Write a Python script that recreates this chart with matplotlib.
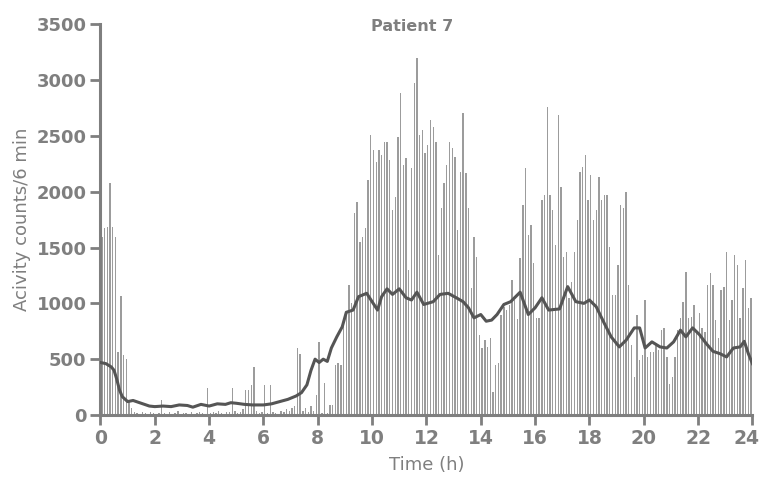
import matplotlib
matplotlib.use("Agg")
import matplotlib.pyplot as plt
from matplotlib.transforms import ScaledTranslation

# Activity counts per 6-min epoch (240 epochs over 24 h)
counts_00_01 = [1597, 1673, 1688, 2076, 1688, 1597, 560, 1070, 540, 500]
counts_01_08 = [120, 60, 30, 20, 10, 25, 15, 0, 30, 20,
                10, 15, 130, 20, 10, 30, 0, 20, 35, 10,
                20, 15, 0, 25, 10, 20, 30, 15, 10, 240,
                20, 30, 15, 40, 20, 10, 30, 25, 240, 40,
                20, 30, 50, 220, 220, 270, 430, 40, 20, 30,
                270, 20, 270, 30, 20, 10, 40, 30, 50, 40,
                60, 80, 600, 550, 40, 60, 30, 80, 40,
                180, 650, 20, 290, 20, 90]
counts_08_15 = [85, 448, 463, 448, 851, 900, 1165, 1000, 1807, 1911,
                1553, 1597, 1672, 2106, 2509, 2374, 2270, 2374, 2330, 2450,
                2450, 2285, 1837, 1955, 2494, 2882, 2240, 2300, 1300, 2210,
                2972, 3196, 2509, 2550, 2345, 2420, 2643, 2583, 2450, 1433,
                1852, 2076, 2240, 2450, 2390, 2315, 1657, 2180, 2702, 2165,
                1852, 1135, 1597, 1418, 717, 603, 672, 612, 687, 209,
                448, 463]
counts_15_24 = [896, 970, 941, 985, 1210, 1030, 856, 1403, 1882, 2210,
                1612, 1702, 1359, 866, 866, 1926, 1970, 2762, 1970, 1837,
                1523, 2688, 2046, 1418, 1463, 1045, 1195, 1463, 1747, 2180,
                2225, 2330, 1926, 2150, 1747, 1837, 2136, 1926, 1970, 1970,
                1508, 1075, 1075, 1344, 1882, 1852, 2000, 1165, 627, 343,
                896, 493, 537, 1030, 523, 567, 567, 627, 582, 762,
                777, 523, 275, 343, 523, 762, 866, 1015, 1284, 866,
                881, 985, 747, 911, 777, 747, 1165, 1269, 1165, 851,
                687, 1120, 1150, 1463, 851, 1030, 1433, 1344, 866, 1135,
                1389, 956, 1045]
counts = counts_00_01 + counts_01_08 + counts_08_15 + counts_15_24
epoch_hours = [0.05 + 0.1 * i for i in range(len(counts))]

# Smoothed (running mean) curve
line_hours = [0.0, 0.2, 0.4, 0.5, 0.6, 0.7, 0.8, 1.0, 1.2, 1.5, 1.8, 2.0, 2.3, 2.6,
              2.9, 3.2, 3.4, 3.7, 4.0, 4.3, 4.6, 4.8, 5.0, 5.3, 5.6, 6.0, 6.3, 6.6,
              6.9, 7.2, 7.4, 7.6, 7.75, 7.9, 8.05, 8.2, 8.35, 8.5, 8.7, 8.9, 9.05,
              9.3, 9.5, 9.8, 10.0, 10.2, 10.35, 10.55, 10.75, 11.0, 11.25, 11.45,
              11.65, 11.9, 12.25, 12.5, 12.8, 13.1, 13.35, 13.55, 13.75, 14.0, 14.2,
              14.4, 14.6, 14.85, 15.1, 15.45, 15.75, 16.0, 16.25, 16.5, 16.9, 17.2,
              17.5, 17.8, 18.0, 18.25, 18.55, 18.8, 19.1, 19.35, 19.65, 19.85, 20.05,
              20.3, 20.6, 20.85, 21.1, 21.35, 21.55, 21.8, 22.05, 22.3, 22.55, 22.8,
              23.05, 23.3, 23.55, 23.7, 23.85, 24.0]
line_values = [470, 460, 430, 400, 320, 224, 165, 120, 130, 105, 80, 75, 80, 75,
               90, 85, 70, 95, 80, 100, 95, 110, 105, 95, 90, 90, 100, 120,
               140, 170, 200, 270, 400, 500, 470, 500, 480, 600, 700, 790, 920,
               940, 1060, 1090, 1015, 940, 1060, 1130, 1080, 1130, 1050, 1030,
               1100, 990, 1015, 1080, 1090, 1050, 1015, 960, 870, 900, 840,
               850, 900, 990, 1015, 1100, 900, 960, 1050, 940, 950, 1150,
               1015, 1000, 1030, 970, 820, 700, 610, 670, 780, 780, 600,
               655, 610, 600, 655, 760, 700, 780, 720, 640, 570, 550,
               520, 600, 610, 660, 550, 460]

x_ticks = [0, 2, 4, 6, 8, 10, 12, 14, 16, 18, 20, 22, 24]
y_ticks = [0, 500, 1000, 1500, 2000, 2500, 3000, 3500]

grey = "#7f7f7f"
fig = plt.figure(figsize=(7.6, 4.84), dpi=100)
ax = fig.add_axes([0.1322, 0.1426, 0.8578, 0.8072])

ax.bar(epoch_hours, counts, width=0.05, color="#9c9c9c", linewidth=0, zorder=1)
ax.plot(line_hours, line_values, color="#555555", lw=2.2, zorder=3)

ax.set_xlim(0, 24)
ax.set_ylim(0, 3500)
ax.set_xticks(x_ticks)
ax.set_yticks(y_ticks)
ax.set_xticklabels([str(v) for v in x_ticks], fontsize=13.5, fontweight="bold", color=grey)
ax.set_yticklabels([str(v) for v in y_ticks], fontsize=13, fontweight="bold", color=grey)
ax.tick_params(axis="both", direction="out", length=7, width=2, color=grey, pad=3)

# keep the last x tick label inside the canvas
last = ax.get_xticklabels()[-1]
last.set_transform(last.get_transform() + ScaledTranslation(-0.06, 0, fig.dpi_scale_trans))

for side in ["top", "right"]:
    ax.spines[side].set_visible(False)
for side in ["left", "bottom"]:
    ax.spines[side].set_color(grey)
    ax.spines[side].set_linewidth(2.2)

ax.set_xlabel("Time (h)", fontsize=13, color=grey, labelpad=6)
ax.set_ylabel("Acivity counts/6 min", fontsize=13, color=grey, labelpad=4)
fig.text(0.542, 0.945, "Patient 7", fontsize=11.5, fontweight="bold", color=grey,
         ha="center", va="center")

fig.savefig("out.png", dpi=100, facecolor="white")
